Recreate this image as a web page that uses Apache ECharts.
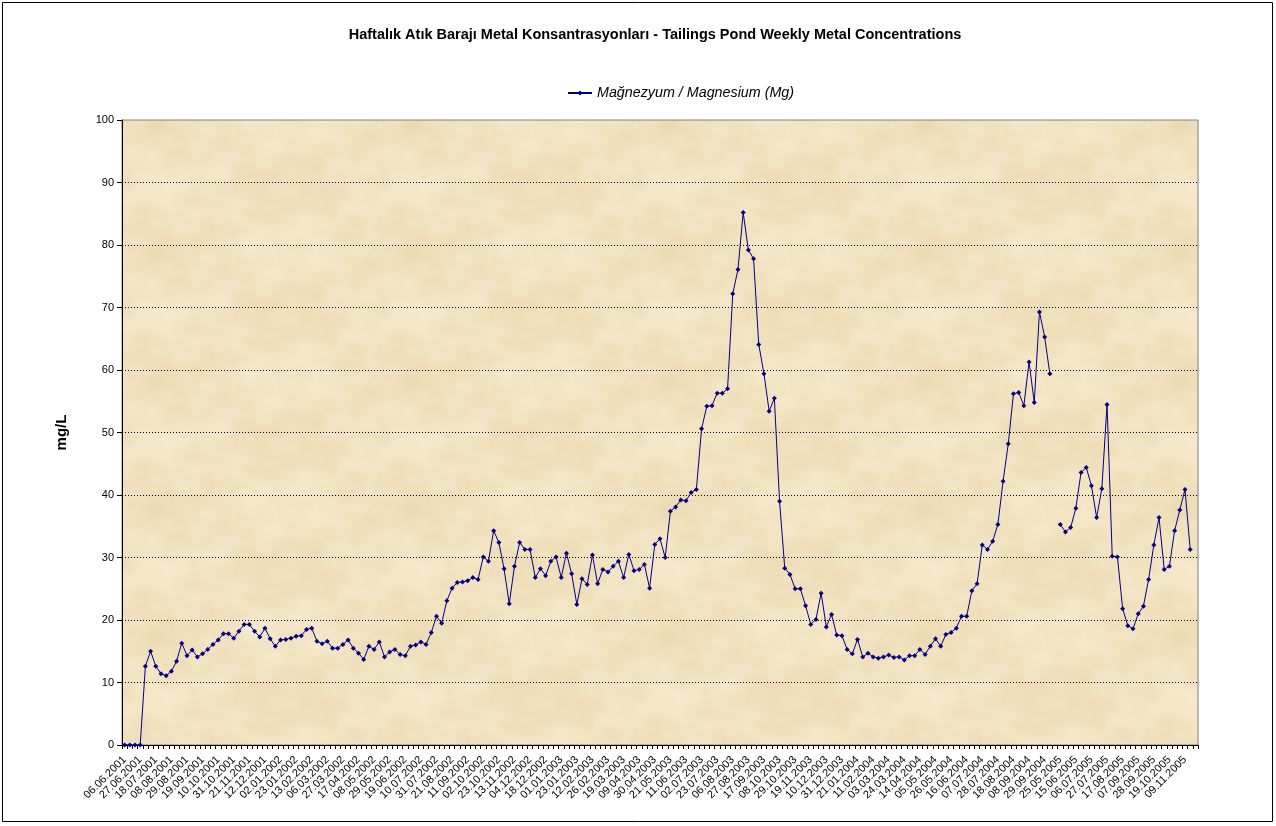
<!DOCTYPE html>
<html>
<head>
<meta charset="utf-8">
<script src="https://cdn.jsdelivr.net/npm/echarts@6/dist/echarts.min.js"></script>
<style>
  html, body { margin: 0; padding: 0; background: #ffffff; }
  #chart { width: 1276px; height: 826px; }
</style>
</head>
<body>
<div id="chart"></div>
<script>
// ---- Data ----
const titleText = 'Haftalık Atık Barajı Metal Konsantrasyonları - Tailings Pond Weekly Metal Concentrations';
const seriesName = 'Mağnezyum / Magnesium (Mg)';
const yAxisName = 'mg/L';

const dates = [
  '06.06.2001','13.06.2001','20.06.2001','27.06.2001','04.07.2001','11.07.2001',
  '18.07.2001','25.07.2001','01.08.2001','08.08.2001','15.08.2001','22.08.2001',
  '29.08.2001','05.09.2001','12.09.2001','19.09.2001','26.09.2001','03.10.2001',
  '10.10.2001','17.10.2001','24.10.2001','31.10.2001','07.11.2001','14.11.2001',
  '21.11.2001','28.11.2001','05.12.2001','12.12.2001','19.12.2001','26.12.2001',
  '02.01.2002','09.01.2002','16.01.2002','23.01.2002','30.01.2002','06.02.2002',
  '13.02.2002','20.02.2002','27.02.2002','06.03.2002','13.03.2002','20.03.2002',
  '27.03.2002','03.04.2002','10.04.2002','17.04.2002','24.04.2002','01.05.2002',
  '08.05.2002','15.05.2002','22.05.2002','29.05.2002','05.06.2002','12.06.2002',
  '19.06.2002','26.06.2002','03.07.2002','10.07.2002','17.07.2002','24.07.2002',
  '31.07.2002','07.08.2002','14.08.2002','21.08.2002','28.08.2002','04.09.2002',
  '11.09.2002','18.09.2002','25.09.2002','02.10.2002','09.10.2002','16.10.2002',
  '23.10.2002','30.10.2002','06.11.2002','13.11.2002','20.11.2002','27.11.2002',
  '04.12.2002','09.12.2002','13.12.2002','18.12.2002','23.12.2002','27.12.2002',
  '01.01.2003','08.01.2003','15.01.2003','23.01.2003','29.01.2003','05.02.2003',
  '12.02.2003','17.02.2003','21.02.2003','26.02.2003','05.03.2003','12.03.2003',
  '19.03.2003','26.03.2003','02.04.2003','09.04.2003','16.04.2003','23.04.2003',
  '30.04.2003','07.05.2003','14.05.2003','21.05.2003','28.05.2003','04.06.2003',
  '11.06.2003','18.06.2003','25.06.2003','02.07.2003','09.07.2003','16.07.2003',
  '23.07.2003','28.07.2003','01.08.2003','06.08.2003','13.08.2003','20.08.2003',
  '27.08.2003','03.09.2003','10.09.2003','17.09.2003','24.09.2003','01.10.2003',
  '08.10.2003','15.10.2003','22.10.2003','29.10.2003','05.11.2003','12.11.2003',
  '19.11.2003','26.11.2003','03.12.2003','10.12.2003','17.12.2003','24.12.2003',
  '31.12.2003','07.01.2004','14.01.2004','21.01.2004','28.01.2004','04.02.2004',
  '11.02.2004','18.02.2004','25.02.2004','03.03.2004','10.03.2004','17.03.2004',
  '24.03.2004','31.03.2004','07.04.2004','14.04.2004','21.04.2004','28.04.2004',
  '05.05.2004','12.05.2004','19.05.2004','26.05.2004','02.06.2004','09.06.2004',
  '16.06.2004','23.06.2004','30.06.2004','07.07.2004','14.07.2004','21.07.2004',
  '28.07.2004','04.08.2004','11.08.2004','18.08.2004','25.08.2004','01.09.2004',
  '08.09.2004','15.09.2004','22.09.2004','29.09.2004','06.10.2004','13.10.2004',
  '25.05.2005','01.06.2005','08.06.2005','15.06.2005','22.06.2005','29.06.2005',
  '06.07.2005','13.07.2005','20.07.2005','27.07.2005','03.08.2005','10.08.2005',
  '17.08.2005','24.08.2005','31.08.2005','07.09.2005','14.09.2005','21.09.2005',
  '28.09.2005','05.10.2005','12.10.2005','19.10.2005','26.10.2005','02.11.2005',
  '09.11.2005','16.11.2005','23.11.2005'
];

const magnesium = [
  0, 0, 0, 0, 12.6, 15.0, 12.6, 11.4, 11.1, 11.8,
  13.4, 16.3, 14.3, 15.2, 14.1, 14.6, 15.3, 16.1, 16.8, 17.8,
  17.8, 17.1, 18.2, 19.3, 19.3, 18.2, 17.3, 18.7, 17.0, 15.8,
  16.8, 16.9, 17.1, 17.4, 17.5, 18.5, 18.7, 16.6, 16.2, 16.6,
  15.5, 15.5, 16.1, 16.8, 15.5, 14.7, 13.7, 15.8, 15.3, 16.5,
  14.1, 14.9, 15.3, 14.5, 14.3, 15.8, 16.0, 16.5, 16.1, 18.0,
  20.6, 19.5, 23.1, 25.1, 26.0, 26.1, 26.3, 26.8, 26.5, 30.1,
  29.4, 34.3, 32.4, 28.2, 22.6, 28.6, 32.4, 31.3, 31.3, 26.8,
  28.2, 27.1, 29.4, 30.1, 26.8, 30.7, 27.4, 22.5, 26.6, 25.7,
  30.4, 25.8, 28.1, 27.7, 28.6, 29.4, 26.8, 30.5, 27.9, 28.1,
  28.9, 25.1, 32.1, 33.0, 30.0, 37.4, 38.1, 39.2, 39.1, 40.4,
  40.9, 50.6, 54.2, 54.3, 56.3, 56.3, 57.0, 72.2, 76.1, 85.2,
  79.2, 77.8, 64.1, 59.4, 53.4, 55.5, 39.0, 28.3, 27.3, 25.0,
  25.0, 22.3, 19.3, 20.1, 24.3, 18.9, 20.9, 17.6, 17.5, 15.3,
  14.6, 16.9, 14.1, 14.7, 14.1, 13.9, 14.1, 14.4, 14.0, 14.1,
  13.6, 14.3, 14.3, 15.3, 14.5, 15.8, 17.0, 15.8, 17.7, 18.0,
  18.7, 20.6, 20.6, 24.7, 25.8, 32.0, 31.3, 32.6, 35.3, 42.2,
  48.2, 56.2, 56.4, 54.3, 61.3, 54.8, 69.3, 65.3, 59.4, null,
  35.3, 34.1, 34.8, 37.9, 43.6, 44.4, 41.5, 36.4, 41.0, 54.5,
  30.2, 30.1, 21.8, 19.1, 18.6, 21.0, 22.2, 26.5, 32.0, 36.4,
  28.1, 28.6, 34.3, 37.6, 40.9, 31.3, null
];

const yTicks = { min: 0, max: 100, step: 10 };

// ---- Parchment-like texture for the plot area (style only) ----
function makeParchment() {
  const w = 256, h = 128;
  const c = document.createElement('canvas');
  c.width = w; c.height = h;
  const ctx = c.getContext('2d');
  const img = ctx.createImageData(w, h);
  const TAU = Math.PI * 2;
  for (let y = 0; y < h; y++) {
    for (let x = 0; x < w; x++) {
      const u = x / w, v = y / h;
      let n = 0;
      n += 0.50 * Math.sin(TAU * (u * 1 + 0.13)) * Math.sin(TAU * (v * 1 + 0.31));
      n += 0.35 * Math.sin(TAU * (u * 3 + v * 1 + 0.4)) * Math.cos(TAU * (v * 2 - u * 1 + 0.2));
      n += 0.25 * Math.sin(TAU * (u * 5 - v * 2 + 0.7)) * Math.sin(TAU * (v * 4 + u * 2 + 0.1));
      n += 0.15 * Math.sin(TAU * (u * 9 + v * 5)) * Math.cos(TAU * (v * 7 - u * 3 + 0.5));
      n += 0.08 * Math.sin(TAU * (u * 17 + v * 11 + 0.3)) * Math.sin(TAU * (v * 13 - u * 7));
      const k = n * 9;
      const i = (y * w + x) * 4;
      img.data[i] = Math.max(0, Math.min(255, 241 + k * 0.6));
      img.data[i + 1] = Math.max(0, Math.min(255, 226 + k * 0.9));
      img.data[i + 2] = Math.max(0, Math.min(255, 192 + k * 1.4));
      img.data[i + 3] = 255;
    }
  }
  ctx.putImageData(img, 0, 0);
  return c;
}
const parchment = makeParchment();

// ---- Chart ----
const FONT = '"Liberation Sans", Arial, sans-serif';
const chart = echarts.init(document.getElementById('chart'), null, { renderer: 'canvas' });

chart.setOption({
  animation: false,
  backgroundColor: '#ffffff',
  title: {
    text: titleText,
    left: 650,
    top: 22,
    textAlign: 'center',
    textStyle: { fontFamily: FONT, fontSize: 14.5, fontWeight: 'bold', color: '#000000' }
  },
  legend: {
    data: [seriesName],
    left: 562,
    top: 81,
    itemWidth: 24,
    itemHeight: 6,
    textStyle: { fontFamily: FONT, fontSize: 14.3, fontStyle: 'italic', color: '#000000' }
  },
  grid: {
    left: 122,
    right: 78,
    top: 120,
    bottom: 81,
    show: true,
    backgroundColor: { image: parchment, repeat: 'repeat' },
    borderColor: '#808080',
    borderWidth: 1,
    containLabel: false
  },
  xAxis: {
    type: 'category',
    data: dates,
    boundaryGap: true,
    axisLine: { show: true, lineStyle: { color: '#000000', width: 1 } },
    axisTick: { show: true, interval: 0, length: 4, inside: false, lineStyle: { color: '#000000' } },
    axisLabel: {
      interval: 2,
      rotate: 45,
      margin: 13,
      fontFamily: FONT,
      fontSize: 11,
      color: '#000000'
    },
    splitLine: { show: false }
  },
  yAxis: {
    type: 'value',
    min: yTicks.min,
    max: yTicks.max,
    interval: yTicks.step,
    name: yAxisName,
    nameLocation: 'middle',
    nameGap: 53,
    nameTextStyle: { fontFamily: FONT, fontSize: 15, fontWeight: 'bold', color: '#000000' },
    axisLine: { show: true, lineStyle: { color: '#000000', width: 1 } },
    axisTick: { show: true, length: 5, lineStyle: { color: '#000000' } },
    axisLabel: { fontFamily: FONT, fontSize: 11, color: '#000000', margin: 8 },
    splitLine: {
      show: true,
      showMinLine: false,
      showMaxLine: false,
      lineStyle: { color: '#000000', type: [1, 2], width: 1 }
    }
  },
  series: [{
    name: seriesName,
    type: 'line',
    data: magnesium,
    connectNulls: false,
    symbol: 'diamond',
    symbolSize: 5,
    showAllSymbol: true,
    itemStyle: { color: '#000080' },
    lineStyle: { color: '#000080', width: 1 }
  }],
  graphic: [{
    type: 'rect',
    shape: { x: 2.5, y: 2.5, width: 1270, height: 819 },
    style: { fill: null, stroke: '#000000', lineWidth: 1 },
    silent: true
  }]
});
</script>
</body>
</html>
